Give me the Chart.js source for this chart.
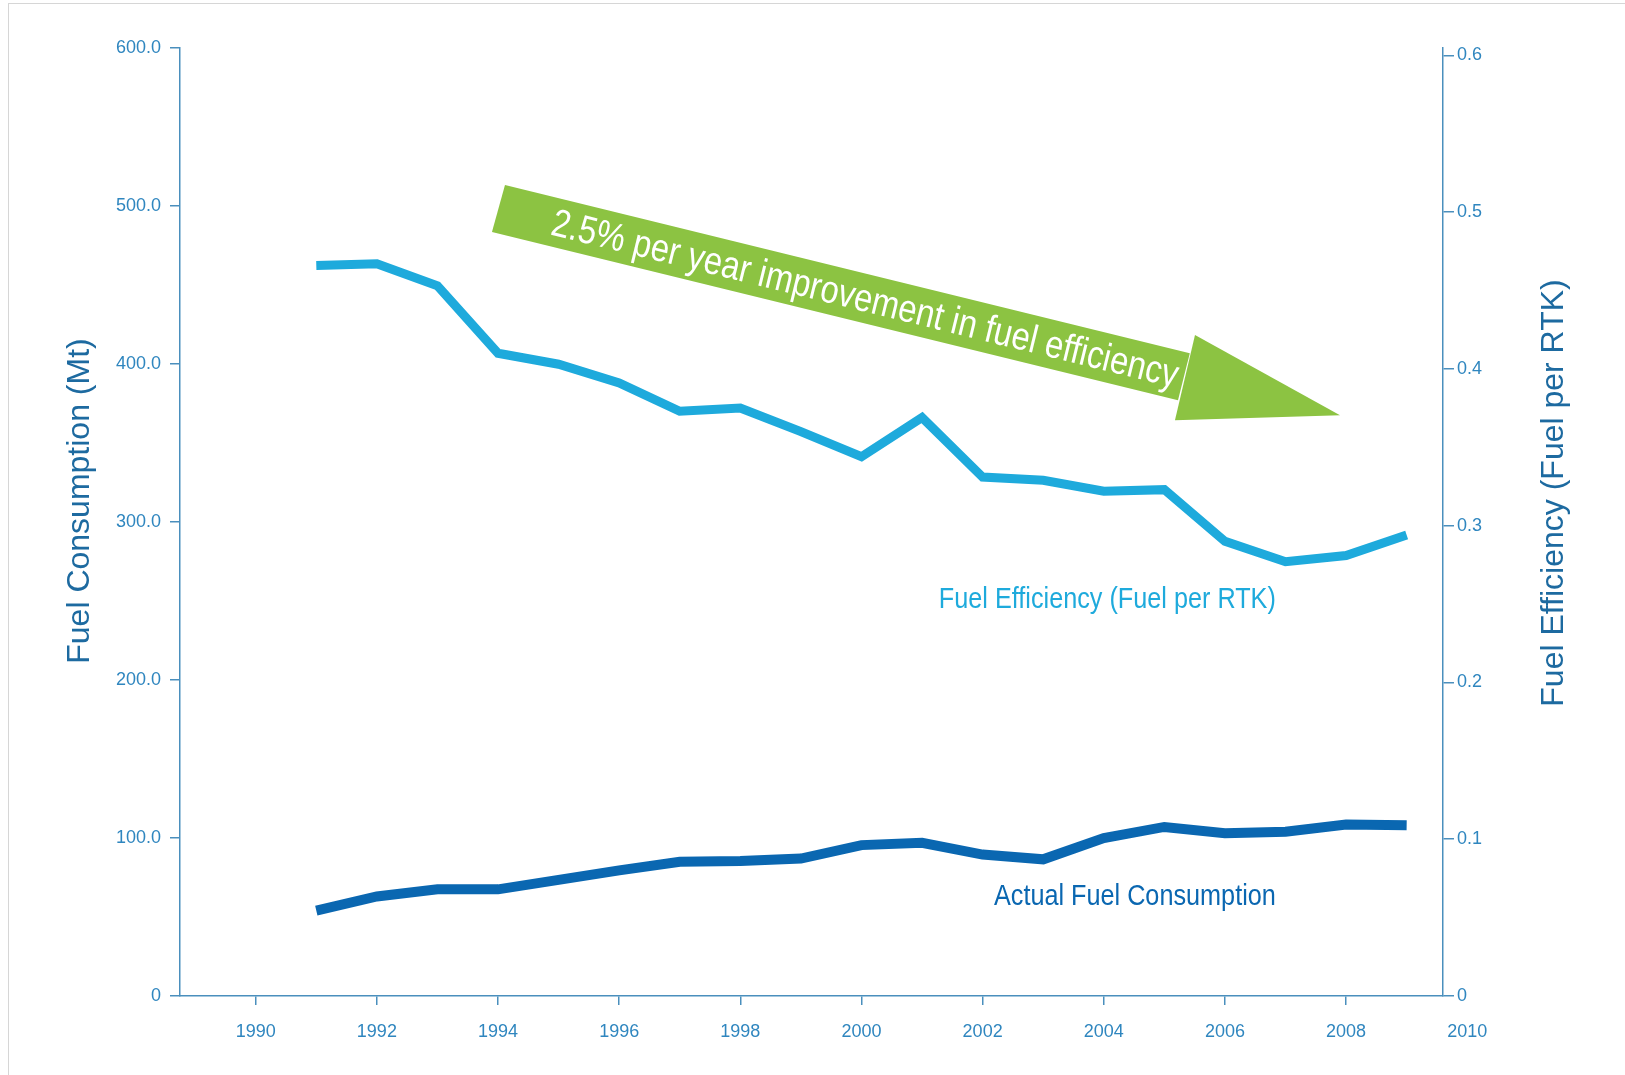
<!DOCTYPE html>
<html>
<head>
<meta charset="utf-8">
<script src="https://cdn.jsdelivr.net/npm/chart.js@4/dist/chart.umd.min.js"></script>
<style>
  html, body { margin: 0; padding: 0; background: #fff; overflow: hidden; }
  #wrap { position: relative; width: 1625px; height: 1075px; }
  #frame { position: absolute; left: 8px; top: 3px; width: 1700px; height: 1100px; border: 1px solid #d6d6d6; box-sizing: border-box; pointer-events: none; }
</style>
</head>
<body>
<div id="wrap">
  <canvas id="c" width="1625" height="1075"></canvas>
  <div id="frame"></div>
</div>
<script>
// ---- data ----
const years = [1991,1992,1993,1994,1995,1996,1997,1998,1999,2000,2001,2002,2003,2004,2005,2006,2007,2008,2009];
const fuelConsumption = [54,63,67.5,67.5,73.5,79.5,85,85.5,87,95.5,97,89.5,86.5,100,107,103,104,108.5,108];
const fuelEfficiency = [0.466,0.467,0.453,0.410,0.403,0.391,0.373,0.375,0.360,0.344,0.369,0.331,0.329,0.322,0.323,0.290,0.277,0.281,0.294];
const xTickYears = [1990,1992,1994,1996,1998,2000,2002,2004,2006,2008,2010];
const leftTicks = [0,100,200,300,400,500,600];
const rightTicks = [0,0.1,0.2,0.3,0.4,0.5,0.6];

const leftTitle = 'Fuel Consumption (Mt)';
const rightTitle = 'Fuel Efficiency (Fuel per RTK)';
const effLabel = 'Fuel Efficiency (Fuel per RTK)';
const consLabel = 'Actual Fuel Consumption';
const arrowText = '2.5% per year improvement in fuel efficiency';

// annotation anchors in data space (year, efficiency value)
const arrowShaft = [[1994.115,0.5173],[2005.42,0.4100],[2005.225,0.3800],[1993.90,0.4873]];
const arrowHead = [[2005.506,0.4216],[2007.90,0.3704],[2005.175,0.3673]];
const effLabelAnchor = [2006.84, 0.2525];
const consLabelAnchor = [2006.84, 62.7];

const AXIS = '#4a8fbd';
const TICK = '#2f86bf';
const TITLE = '#1d6aa0';
const LIGHT = '#1eaadc';
const DARK = '#0a67b1';
const GREEN = '#8cc342';

const pts = (vals) => years.map((y, i) => ({x: y, y: vals[i]}));

const overlay = {
  id: 'overlay',
  afterDatasetsDraw(chart) {
    const {ctx, chartArea} = chart;
    const xs = chart.scales.x, y1 = chart.scales.y1, y = chart.scales.y;
    const P = (p) => [xs.getPixelForValue(p[0]), y1.getPixelForValue(p[1])];
    ctx.save();
    // arrow
    const s = arrowShaft.map(P), h = arrowHead.map(P);
    ctx.fillStyle = GREEN;
    ctx.beginPath();
    s.forEach((p, i) => i ? ctx.lineTo(p[0], p[1]) : ctx.moveTo(p[0], p[1]));
    ctx.closePath(); ctx.fill();
    ctx.beginPath();
    h.forEach((p, i) => i ? ctx.lineTo(p[0], p[1]) : ctx.moveTo(p[0], p[1]));
    ctx.closePath(); ctx.fill();
    // arrow text
    const a = [(s[0][0]+s[3][0])/2, (s[0][1]+s[3][1])/2];
    const b = [(s[1][0]+s[2][0])/2, (s[1][1]+s[2][1])/2];
    const ang = Math.atan2(b[1]-a[1], b[0]-a[0]);
    const t = 0.535;
    const cx = a[0] + (b[0]-a[0])*t, cy = a[1] + (b[1]-a[1])*t;
    ctx.translate(cx, cy); ctx.rotate(ang); ctx.scale(0.84, 1);
    ctx.fillStyle = '#ffffff';
    ctx.font = '39px "Liberation Sans", Arial, sans-serif';
    ctx.textAlign = 'center'; ctx.textBaseline = 'middle';
    ctx.fillText(arrowText, 0, 2);
    ctx.restore();

    // series labels
    ctx.save();
    ctx.textAlign = 'right'; ctx.textBaseline = 'middle';
    ctx.font = '29px "Liberation Sans", Arial, sans-serif';
    let ex = xs.getPixelForValue(effLabelAnchor[0]), ey = y1.getPixelForValue(effLabelAnchor[1]);
    ctx.translate(ex, ey); ctx.scale(0.87, 1);
    ctx.fillStyle = LIGHT; ctx.fillText(effLabel, 0, 0);
    ctx.restore();
    ctx.save();
    ctx.textAlign = 'right'; ctx.textBaseline = 'middle';
    ctx.font = '29px "Liberation Sans", Arial, sans-serif';
    let cxl = xs.getPixelForValue(consLabelAnchor[0]), cyl = y.getPixelForValue(consLabelAnchor[1]);
    ctx.translate(cxl, cyl); ctx.scale(0.87, 1);
    ctx.fillStyle = DARK; ctx.fillText(consLabel, 0, 0);
    ctx.restore();

    // axis titles (both read bottom-to-top)
    ctx.save();
    ctx.fillStyle = TITLE;
    ctx.font = '32px "Liberation Sans", Arial, sans-serif';
    ctx.textAlign = 'center'; ctx.textBaseline = 'middle';
    ctx.translate(chartArea.left - 100, (chartArea.top + chartArea.bottom)/2 - 21);
    ctx.rotate(-Math.PI/2);
    ctx.fillText(leftTitle, 0, 0);
    ctx.restore();
    ctx.save();
    ctx.fillStyle = TITLE;
    ctx.font = '32px "Liberation Sans", Arial, sans-serif';
    ctx.textAlign = 'center'; ctx.textBaseline = 'middle';
    ctx.translate(chartArea.right + 111, (chartArea.top + chartArea.bottom)/2 - 29);
    ctx.rotate(-Math.PI/2);
    ctx.fillText(rightTitle, 0, 0);
    ctx.restore();
  }
};

const tickFont = {family: '"Liberation Sans", Arial, sans-serif', size: 18};

new Chart(document.getElementById('c'), {
  type: 'line',
  data: {
    datasets: [
      { label: effLabel, data: pts(fuelEfficiency), yAxisID: 'y1', borderColor: LIGHT, borderWidth: 9, pointRadius: 0, tension: 0, fill: false },
      { label: consLabel, data: pts(fuelConsumption), yAxisID: 'y', borderColor: DARK, borderWidth: 10, pointRadius: 0, tension: 0, fill: false }
    ]
  },
  options: {
    responsive: false,
    animation: false,
    layout: { padding: { top: 48, left: 0, right: 0, bottom: 0 } },
    plugins: { legend: { display: false }, tooltip: { enabled: false } },
    scales: {
      x: {
        type: 'linear', min: 1988.75, max: 2009.6,
        afterBuildTicks: (s) => { s.ticks = xTickYears.map(v => ({value: v})); },
        afterFit: (s) => { s.height = 79; },
        border: { color: AXIS, width: 1.5 },
        grid: { drawOnChartArea: false, drawTicks: true, tickLength: 9, color: (c) => (c.tick && c.tick.value === 2010) ? 'rgba(0,0,0,0)' : AXIS, lineWidth: 1.5 },
        ticks: { autoSkip: false, maxRotation: 0, color: TICK, font: tickFont, padding: 16, callback: (v) => String(v) }
      },
      y: {
        position: 'left', min: 0, max: 600,
        afterBuildTicks: (s) => { s.ticks = leftTicks.map(v => ({value: v})); },
        afterFit: (s) => { s.width = 180; },
        border: { color: AXIS, width: 1.5 },
        grid: { drawOnChartArea: false, drawTicks: true, tickLength: 10, color: AXIS, lineWidth: 1.5 },
        ticks: { color: TICK, font: tickFont, padding: 9, callback: (v) => v === 0 ? '0' : Number(v).toFixed(1) }
      },
      y1: {
        position: 'right', min: 0, max: 0.6047,
        afterBuildTicks: (s) => { s.ticks = rightTicks.map(v => ({value: v})); },
        afterFit: (s) => { s.width = 182; },
        border: { color: AXIS, width: 1.5 },
        grid: { drawOnChartArea: false, drawTicks: true, tickLength: 11, color: AXIS, lineWidth: 1.5 },
        ticks: { color: TICK, font: tickFont, padding: 3, callback: (v) => v === 0 ? '0' : Number(v).toFixed(1) }
      }
    }
  },
  plugins: [overlay]
});
</script>
</body>
</html>
